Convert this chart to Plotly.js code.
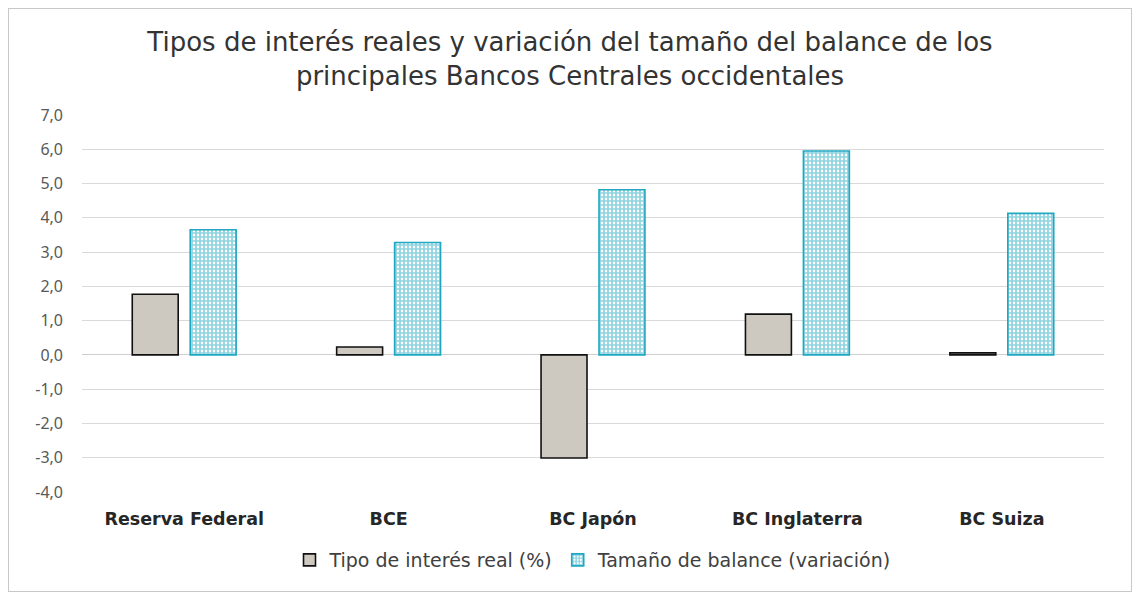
<!DOCTYPE html>
<html>
<head>
<meta charset="utf-8">
<script src="https://cdn.plot.ly/plotly-3.0.1.min.js"></script>
<style>
  html, body { margin: 0; padding: 0; background: #ffffff; }
  #frame { position: absolute; left: 8px; top: 8px; width: 1122px; height: 582px; border: 1px solid #c8c8c8; }
  #chart { width: 1122px; height: 582px; }
</style>
</head>
<body>
<div id="frame"><div id="chart"></div></div>
<script>
const categories = ["Reserva Federal", "BCE", "BC Japón", "BC Inglaterra", "BC Suiza"];
const realRate = [1.77, 0.23, -3.01, 1.19, 0.06];
const balanceChange = [3.65, 3.28, 4.82, 5.95, 4.13];
const seriesNames = ["Tipo de interés real (%)", "Tamaño de balance (variación)"];
const yTicks = [-4, -3, -2, -1, 0, 1, 2, 3, 4, 5, 6, 7];
const yTickText = yTicks.map(v => v.toFixed(1).replace(".", ","));

const font = "DejaVu Sans, Noto Sans, sans-serif";
const tickFontFamily = "Noto Sans, Open Sans, sans-serif";

const traces = [
  {
    type: "bar",
    name: seriesNames[0],
    x: categories,
    y: realRate,
    marker: { color: "#cdc9c1", line: { color: "#111111", width: 1.6 } },
    hoverinfo: "none"
  },
  {
    type: "bar",
    name: seriesNames[1],
    x: categories,
    y: balanceChange,
    marker: {
      color: "#ffffff",
      line: { color: "#20a8c2", width: 1.6 },
      pattern: { shape: "+", fgcolor: "#1ea6c0", bgcolor: "#ffffff", size: 4, solidity: 0.68, fillmode: "overlay" }
    },
    hoverinfo: "none"
  }
];

const layout = {
  width: 1122,
  height: 582,
  margin: { l: 73, r: 27, t: 106, b: 97 },
  paper_bgcolor: "#ffffff",
  plot_bgcolor: "#ffffff",
  font: { family: font, color: "#404040" },
  title: {
    text: "Tipos de interés reales y variación del tamaño del balance de los<br>principales Bancos Centrales occidentales",
    font: { family: font, size: 26, color: "#333333" },
    x: 0.5, xanchor: "center",
    y: 0.928, yanchor: "top"
  },
  barmode: "group",
  bargap: 0.433,
  bargroupgap: 0.207,
  xaxis: {
    type: "category",
    tickfont: { family: font, size: 17.5, color: "#262626", weight: "bold" },
    showgrid: false,
    showline: false,
    ticks: "",
    ticklabelstandoff: 14
  },
  yaxis: {
    range: [-4, 7],
    tickvals: yTicks,
    ticktext: yTickText,
    tickfont: { family: tickFontFamily, size: 16, color: "#595959" },
    showgrid: true,
    gridcolor: "#d9d9d9",
    gridwidth: 1,
    zeroline: true,
    zerolinecolor: "#cfcfcf",
    zerolinewidth: 1,
    showline: false,
    ticks: "",
    ticklabelstandoff: 18
  },
  showlegend: true,
  legend: {
    orientation: "h",
    x: 0.5, xanchor: "center",
    y: -0.13, yanchor: "top",
    font: { family: font, size: 19, color: "#404040" },
    itemwidth: 30,
    tracegroupgap: 0
  }
};

Plotly.newPlot("chart", traces, layout, { displayModeBar: false, staticPlot: true });
</script>
</body>
</html>
